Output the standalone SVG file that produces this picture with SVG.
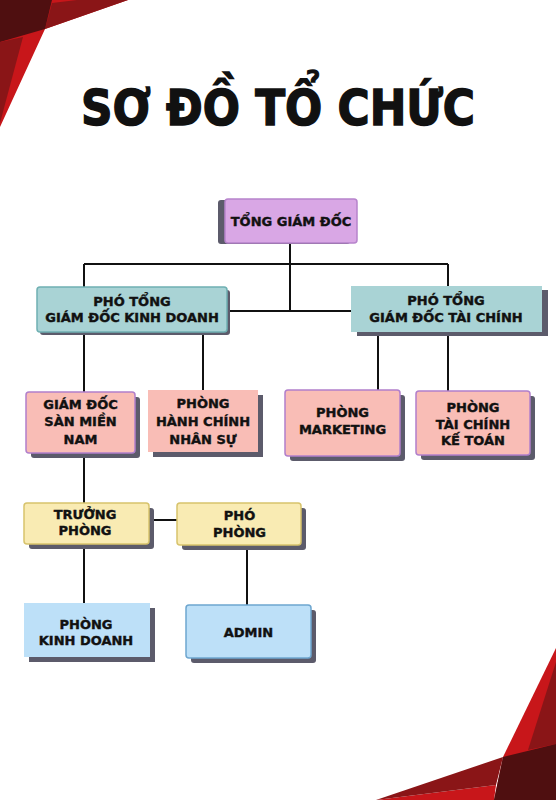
<svg xmlns="http://www.w3.org/2000/svg" width="556" height="800" viewBox="0 0 556 800">
<style>
.lbl{font-family:"DejaVu Sans","Liberation Sans",sans-serif;font-weight:bold;font-size:13px;fill:#111;stroke:#111;stroke-width:0.4;text-anchor:middle}
.sh{fill:#5c5b6b}
.con{stroke:#111;stroke-width:2;fill:none}
</style>
<rect width="556" height="800" fill="#ffffff"/>
<g id="decor-top-left">
<polygon points="0,0 128,0 45,29 0,127" fill="#c8161a"/>
<polygon points="52,3 77,0 128,0 45,29" fill="#8a1517"/>
<polygon points="0,0 52,0 45,29 0,42" fill="#4f0f10"/>
<polygon points="0,42 23,37 0,123" fill="#8a1517"/>
</g>
<g id="decor-bottom-right">
<polygon points="556,648 503,757 494,800 556,800" fill="#c8161a"/>
<polygon points="376,800 496,785 494,800" fill="#c8161a"/>
<polygon points="556,662 528,750 556,744" fill="#8a1517"/>
<polygon points="376,800 503,757 496,785" fill="#8a1517"/>
<polygon points="503,757 556,744 556,800 494,800" fill="#4f0f10"/>
</g>
<text id="title" x="278" y="125" font-family="DejaVu Sans, sans-serif" font-weight="900" font-size="50" text-anchor="middle" textLength="394" lengthAdjust="spacingAndGlyphs" fill="#111" stroke="#111" stroke-width="1.5">SƠ ĐỒ TỔ CHỨC</text>
<g id="connectors">
<path class="con" d="M290,243 V312"/>
<path class="con" d="M227,311 H351"/>
<path class="con" d="M84,264 H448"/>
<path class="con" d="M84,264 V287"/>
<path class="con" d="M448,264 V286"/>
<path class="con" d="M84,332 V392"/>
<path class="con" d="M203,332 V390"/>
<path class="con" d="M378,332 V390"/>
<path class="con" d="M448,332 V391"/>
<path class="con" d="M84,453 V503"/>
<path class="con" d="M149,520 H177"/>
<path class="con" d="M84,544 V603"/>
<path class="con" d="M247,545 V605"/>
</g>
<g id="tong-giam-doc">
<rect class="sh" x="218" y="200" width="132" height="44" rx="3"/>
<rect x="225" y="199" width="132" height="44" rx="3" fill="#d9a7e5" stroke="#b784cc" stroke-width="1.5"/>
<text class="lbl" x="291" y="226">TỔNG GIÁM ĐỐC</text>
</g>
<g id="pho-tong-kinh-doanh">
<rect class="sh" x="40" y="290" width="190" height="45" rx="3"/>
<rect x="37" y="287" width="190" height="45" rx="3" fill="#a9d3d5" stroke="#6fb0b2" stroke-width="1.5"/>
<text class="lbl" x="132" y="306">PHÓ TỔNG</text>
<text class="lbl" x="132" y="322">GIÁM ĐỐC KINH DOANH</text>
</g>
<g id="pho-tong-tai-chinh">
<rect class="sh" x="357" y="290" width="191" height="46"/>
<rect x="351" y="286" width="191" height="46" fill="#a9d3d5"/>
<text class="lbl" x="446" y="305">PHÓ TỔNG</text>
<text class="lbl" x="446" y="322">GIÁM ĐỐC TÀI CHÍNH</text>
</g>
<g id="giam-doc-san">
<rect class="sh" x="31" y="397" width="109" height="61" rx="3"/>
<rect x="26" y="392" width="109" height="61" rx="3" fill="#f9bdb6" stroke="#b17fcb" stroke-width="1.5"/>
<text class="lbl" x="80.5" y="408.5">GIÁM ĐỐC</text>
<text class="lbl" x="80.5" y="426">SÀN MIỀN</text>
<text class="lbl" x="80.5" y="443.5">NAM</text>
</g>
<g id="phong-hcns">
<rect class="sh" x="153" y="395" width="110" height="62"/>
<rect x="148" y="390" width="110" height="62" fill="#f9bdb6"/>
<text class="lbl" x="203" y="408">PHÒNG</text>
<text class="lbl" x="203" y="426">HÀNH CHÍNH</text>
<text class="lbl" x="203" y="444">NHÂN SỰ</text>
</g>
<g id="phong-marketing">
<rect class="sh" x="290" y="395" width="115" height="66" rx="3"/>
<rect x="285" y="390" width="115" height="66" rx="3" fill="#f9bdb6" stroke="#b17fcb" stroke-width="1.5"/>
<text class="lbl" x="342.5" y="416.5">PHÒNG</text>
<text class="lbl" x="342.5" y="433.5">MARKETING</text>
</g>
<g id="phong-tckt">
<rect class="sh" x="421" y="396" width="114" height="64" rx="3"/>
<rect x="416" y="391" width="114" height="64" rx="3" fill="#f9bdb6" stroke="#b17fcb" stroke-width="1.5"/>
<text class="lbl" x="473" y="411.5">PHÒNG</text>
<text class="lbl" x="473" y="428.5">TÀI CHÍNH</text>
<text class="lbl" x="473" y="445">KẾ TOÁN</text>
</g>
<g id="truong-phong">
<rect class="sh" x="29" y="508" width="125" height="41" rx="3"/>
<rect x="24" y="503" width="125" height="41" rx="3" fill="#f9ebb3" stroke="#d7c36c" stroke-width="1.5"/>
<text class="lbl" x="85" y="518.5">TRƯỞNG</text>
<text class="lbl" x="85" y="535">PHÒNG</text>
</g>
<g id="pho-phong">
<rect class="sh" x="182" y="508" width="124" height="42" rx="3"/>
<rect x="177" y="503" width="124" height="42" rx="3" fill="#f9ebb3" stroke="#d7c36c" stroke-width="1.5"/>
<text class="lbl" x="239.5" y="520">PHÓ</text>
<text class="lbl" x="239.5" y="537">PHÒNG</text>
</g>
<g id="phong-kinh-doanh">
<rect class="sh" x="29" y="608" width="126" height="54"/>
<rect x="24" y="603" width="126" height="54" fill="#bde0f8"/>
<text class="lbl" x="86" y="628.5">PHÒNG</text>
<text class="lbl" x="86" y="645">KINH DOANH</text>
</g>
<g id="admin">
<rect class="sh" x="191" y="610" width="125" height="53" rx="3"/>
<rect x="186" y="605" width="125" height="53" rx="3" fill="#bde0f8" stroke="#6ea6cf" stroke-width="1.5"/>
<text class="lbl" x="248.5" y="636.5">ADMIN</text>
</g>
</svg>
